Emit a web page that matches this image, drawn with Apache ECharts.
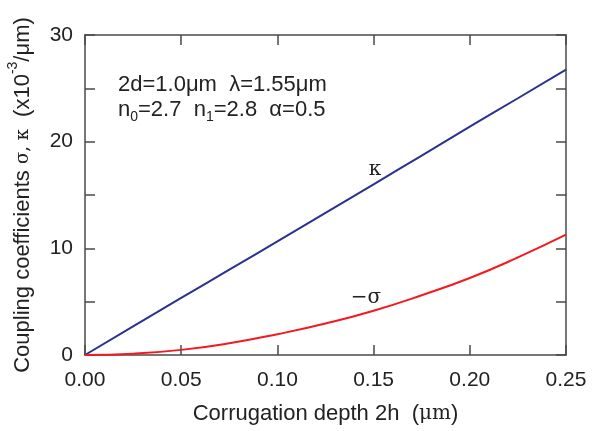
<!DOCTYPE html>
<html>
<head>
<meta charset="utf-8">
<script src="https://cdn.jsdelivr.net/npm/echarts@6/dist/echarts.min.js"></script>
<style>html,body{margin:0;padding:0;background:#fff}#c{width:601px;height:431px}</style>
</head>
<body>
<div id="c"></div>
<script>
var depth = [0, 0.025, 0.05, 0.075, 0.1, 0.125, 0.15, 0.175, 0.2, 0.225, 0.25];
var kappa = [0, 2.68, 5.35, 8.0, 10.65, 13.32, 16.0, 18.7, 21.4, 24.07, 26.75];
var minusSigma = [0, 0.12, 0.48, 1.1, 1.95, 2.95, 4.15, 5.6, 7.22, 9.15, 11.28];
var xTicks = [0, 0.05, 0.1, 0.15, 0.2, 0.25];
var yLabels = [0, 10, 20, 30];

var chart = echarts.init(document.getElementById('c'));
var axisCol = '#4a4a4a';
var txtCol = '#222';
var font = 'Liberation Sans';
function pairs(xs, ys){ return xs.map(function(x,i){return [x, ys[i]];}); }

var baseX = {
  type: 'value', min: 0, max: 0.25, interval: 0.05,
  axisLine: {show: true, onZero: false, lineStyle: {color: axisCol, width: 1.5}},
  axisTick: {show: true, inside: true, length: 10, lineStyle: {color: axisCol, width: 1.5}},
  splitLine: {show: false}
};
var baseY = {
  type: 'value', min: 0, max: 30, interval: 5,
  axisLine: {show: true, onZero: false, lineStyle: {color: axisCol, width: 1.5}},
  axisTick: {show: true, inside: true, length: 10, lineStyle: {color: axisCol, width: 1.5}},
  splitLine: {show: false}
};

chart.setOption({
  animation: false,
  backgroundColor: '#fff',
  grid: {left: 85, right: 35, top: 35, bottom: 76, containLabel: false, outerBoundsMode: 'none'},
  xAxis: [
    Object.assign({}, baseX, {
      position: 'bottom',
      axisLabel: {color: txtCol, fontFamily: font, fontSize: 21, margin: 15,
        formatter: function(v){ return v.toFixed(2); }},
      name: 'Corrugation depth 2h  ({mu|μm})',
      nameLocation: 'middle', nameGap: 48,
      nameTextStyle: {color: txtCol, fontFamily: font, fontSize: 22,
        rich: {mu: {fontFamily: 'DejaVu Serif', fontSize: 20, color: txtCol}}}
    }),
    Object.assign({}, baseX, {position: 'top', axisLabel: {show: false}})
  ],
  yAxis: [
    Object.assign({}, baseY, {
      position: 'left',
      axisLabel: {color: txtCol, fontFamily: font, fontSize: 21, margin: 12,
        formatter: function(v){ return yLabels.indexOf(v) >= 0 ? String(v) : ''; }},
      name: 'Coupling coefficients {g|σ, κ}  (x10{sup|-3}/μm)',
      nameLocation: 'middle', nameGap: 45, nameRotate: 90,
      nameTextStyle: {color: txtCol, fontFamily: font, fontSize: 22,
        rich: {
          g: {fontFamily: 'DejaVu Serif', fontSize: 18, color: txtCol},
          sup: {fontFamily: font, fontSize: 14, color: txtCol, verticalAlign: 'top', lineHeight: 34}
        }}
    }),
    Object.assign({}, baseY, {position: 'right', axisLabel: {show: false}})
  ],
  graphic: [
    {type: 'text', left: 118, top: 74,
      style: {text: '2d=1.0μm  λ=1.55μm', fill: txtCol, font: '22px "Liberation Sans"'}},
    {type: 'text', left: 118, top: 96,
      style: {
        text: 'n{sub|0}=2.7  n{sub|1}=2.8  α=0.5',
        fill: txtCol, font: '22px "Liberation Sans"', lineHeight: 28,
        rich: {sub: {fontSize: 14, fontFamily: font, fill: txtCol, verticalAlign: 'bottom', lineHeight: 14}}
      }}
  ],
  series: [
    {
      type: 'line', name: 'kappa', data: pairs(depth, kappa), smooth: true,
      showSymbol: false, lineStyle: {color: '#2a3190', width: 2}, itemStyle: {color: '#2a3190'},
      markPoint: {symbol: 'circle', symbolSize: 0, silent: true,
        data: [{coord: [0.1507, 17.4], value: 'κ'}],
        label: {show: true, position: 'inside', formatter: 'κ', color: '#222',
          fontFamily: 'DejaVu Serif', fontSize: 20}}
    },
    {
      type: 'line', name: 'minus sigma', data: pairs(depth, minusSigma), smooth: true,
      showSymbol: false, lineStyle: {color: '#f31a1f', width: 2}, itemStyle: {color: '#f31a1f'},
      markPoint: {symbol: 'circle', symbolSize: 0, silent: true,
        data: [{coord: [0.146, 5.4], value: '−σ'}],
        label: {show: true, position: 'inside', formatter: '−σ', color: '#222',
          fontFamily: 'DejaVu Serif', fontSize: 20}}
    }
  ]
});
</script>
</body>
</html>
